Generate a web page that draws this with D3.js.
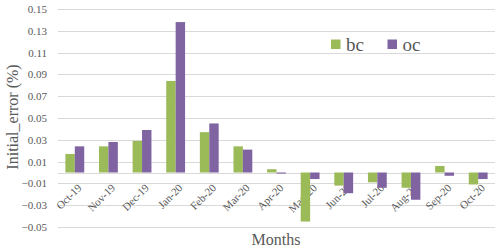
<!DOCTYPE html>
<html>
<head>
<meta charset="utf-8">
<script src="https://cdn.jsdelivr.net/npm/d3@7"></script>
<style>
  body { margin: 0; background: #fff; }
  text { font-family: "Liberation Serif", "Times New Roman", serif; fill: #595959; }
</style>
</head>
<body>
<div id="chart"></div>
<script>
var months = ["Oct-19", "Nov-19", "Dec-19", "Jan-20", "Feb-20", "Mar-20", "Apr-20",
              "May-20", "Jun-20", "Jul-20", "Aug-20", "Sep-20", "Oct-20"];
var seriesNames = ["bc", "oc"];
var bcValues = [0.017, 0.024, 0.029, 0.084, 0.037, 0.024, 0.003, -0.045, -0.012, -0.009, -0.014, 0.006, -0.011];
var ocValues = [0.024, 0.028, 0.039, 0.138, 0.045, 0.021, -0.001, -0.006, -0.019, -0.014, -0.025, -0.003, -0.006];
var yTicks = [-0.05, -0.03, -0.01, 0.01, 0.03, 0.05, 0.07, 0.09, 0.11, 0.13, 0.15];

var width = 500,
    height = 250,
    margin = {top: 9, right: 5, bottom: 23, left: 58},
    colors = {bc: "#9BBB59", oc: "#8064A2"};

var svg = d3.select("#chart")
    .append("svg")
    .attr("width", width)
    .attr("height", height);

var data = months.map(function(m, i) {
    return {month: m, bc: bcValues[i], oc: ocValues[i]};
});

var x = d3.scaleBand()
    .domain(months)
    .range([margin.left, width - margin.right])
    .paddingInner(0.44)
    .paddingOuter(0.22);

var x1 = d3.scaleBand()
    .domain(seriesNames)
    .range([0, x.bandwidth()]);

var y = d3.scaleLinear()
    .domain([-0.05, 0.15])
    .range([height - margin.bottom, margin.top]);

// gridlines
svg.append("g")
    .selectAll("line")
    .data(yTicks.concat([0]))
    .enter().append("line")
    .attr("x1", margin.left)
    .attr("x2", width - margin.right)
    .attr("y1", function(d) { return Math.round(y(d)) + 0.5; })
    .attr("y2", function(d) { return Math.round(y(d)) + 0.5; })
    .attr("stroke", "#d9d9d9")
    .attr("stroke-width", 1);

// y tick labels
var yAxis = d3.axisLeft(y)
    .tickValues(yTicks)
    .tickSize(0)
    .tickPadding(11)
    .tickFormat(d3.format(".2f"));

svg.append("g")
    .attr("transform", "translate(" + margin.left + ",0)")
    .call(yAxis)
    .call(function(g) { g.select(".domain").remove(); })
    .selectAll("text")
    .style("font-size", "11px")
    .attr("fill", "#595959");

// x tick labels, rotated, drawn under the bars
var xAxis = d3.axisBottom(x).tickSize(0).tickPadding(0);

svg.append("g")
    .attr("transform", "translate(0," + y(0) + ")")
    .call(xAxis)
    .call(function(g) { g.select(".domain").remove(); })
    .selectAll("text")
    .style("font-size", "11px")
    .attr("fill", "#595959")
    .attr("text-anchor", "end")
    .attr("y", 0)
    .attr("dy", "0.71em")
    .attr("transform", "translate(2,10.5) rotate(-45)");

// bars
var groups = svg.append("g")
    .selectAll("g")
    .data(data)
    .enter().append("g")
    .attr("transform", function(d) { return "translate(" + x(d.month) + ",0)"; });

groups.selectAll("rect")
    .data(function(d) { return seriesNames.map(function(k) { return {key: k, value: d[k]}; }); })
    .enter().append("rect")
    .attr("x", function(d) { return x1(d.key); })
    .attr("y", function(d) { return y(Math.max(0, d.value)); })
    .attr("width", x1.bandwidth())
    .attr("height", function(d) { return Math.abs(y(d.value) - y(0)); })
    .attr("fill", function(d) { return colors[d.key]; });

// legend
var legend = svg.append("g")
    .selectAll("g")
    .data(seriesNames)
    .enter().append("g")
    .attr("transform", function(d, i) { return "translate(" + (331 + i * 56.5) + ",39.5)"; });

legend.append("rect")
    .attr("width", 9.5)
    .attr("height", 9.5)
    .attr("fill", function(d) { return colors[d]; });

legend.append("text")
    .attr("x", 15)
    .attr("y", 11.5)
    .style("font-size", "19px")
    .attr("fill", "#404040")
    .text(function(d) { return d; });

// axis titles
svg.append("text")
    .attr("x", 276)
    .attr("y", 245)
    .attr("text-anchor", "middle")
    .style("font-size", "16px")
    .attr("fill", "#595959")
    .text("Months");

svg.append("text")
    .attr("transform", "translate(18,117) rotate(-90)")
    .attr("text-anchor", "middle")
    .style("font-size", "16px")
    .attr("fill", "#595959")
    .text("Initial_error (%)");
</script>
</body>
</html>
